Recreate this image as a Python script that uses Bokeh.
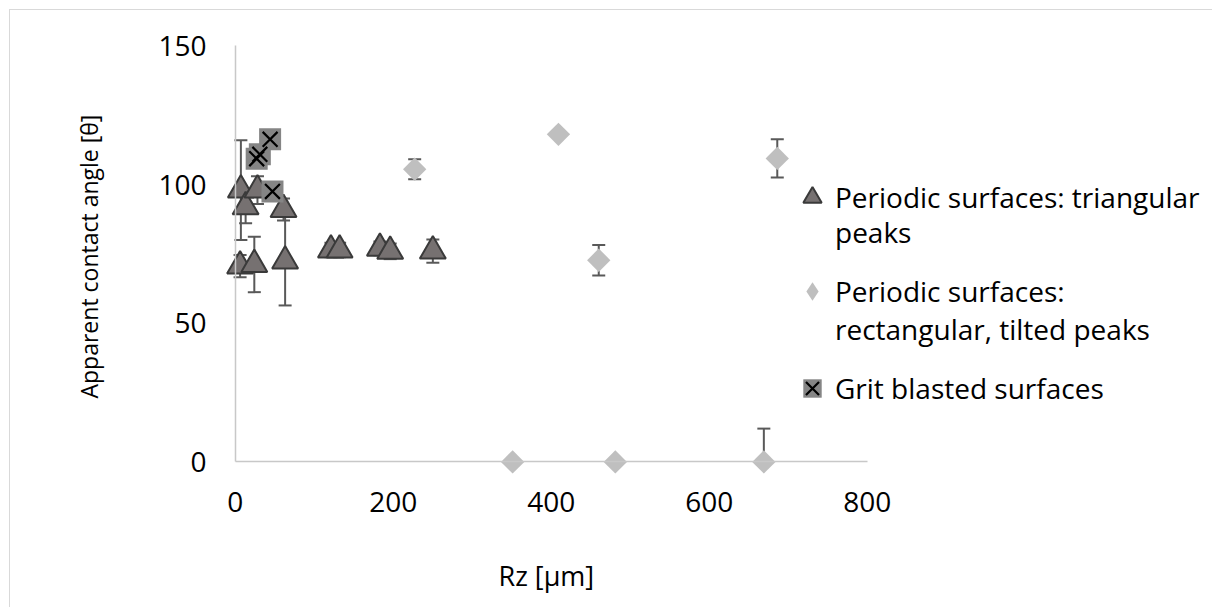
import numpy as np
from bokeh.plotting import figure
from bokeh.models import (ColumnDataSource, Whisker, TeeHead, Legend, LegendItem,
                          FixedTicker, Range1d, LinearAxis, Title)
from bokeh.embed import file_html
from bokeh.resources import INLINE

# ---------------- data ----------------
tri_x = [7, 13, 28, 61, 6, 24, 63, 121, 132, 183, 196, 250]
tri_y = [98, 92, 98, 91, 70.6, 71.2, 72.4, 76.4, 76.4, 77.0, 75.9, 76.0]
tri_err = [18, 6, 5, 4, 4, 10, 16, 2.6, 2.6, 2.5, 2.8, 4.2]

rect_x = [227, 409, 686, 460, 351, 481, 669]
rect_y = [105.5, 118.1, 109.4, 72.7, 0, 0, 0]
rect_err = [3.6, 0, 6.9, 5.5, 0, 0, 12]

grit_x = [44, 27, 31, 47]
grit_y = [116.3, 109.3, 110.9, 97.5]

x_ticks = [0, 200, 400, 600, 800]
y_ticks = [0, 50, 100, 150]

label_tri = ["Periodic surfaces: triangular", "peaks"]
label_rect = ["Periodic surfaces:", "rectangular, tilted peaks"]
label_grit = ["Grit blasted surfaces"]
x_title = "Rz [µm]"
y_title = "Apparent contact angle [θ]"

FONT = "Open Sans"

# ---------------- figure ----------------
p = figure(width=1203, height=598, output_backend="svg", toolbar_location=None,
           x_range=Range1d(-15, 1238.2), y_range=Range1d(-30.14, 153),
           x_axis_location=None,
           min_border_left=213, min_border_right=0, min_border_top=27, min_border_bottom=63,
           styles={"border-top": "1px solid #d9d9d9", "border-left": "1px solid #d9d9d9",
                   "margin-left": "9px", "margin-top": "9px"})
p.outline_line_color = None
p.xgrid.grid_line_color = None
p.ygrid.grid_line_color = None
p.background_fill_color = "white"
p.border_fill_color = "white"


def style_axis(ax):
    ax.major_tick_line_color = None
    ax.minor_tick_line_color = None
    ax.major_tick_out = 0
    ax.major_tick_in = 0
    ax.major_label_text_font = FONT
    ax.major_label_text_font_size = "28px"
    ax.major_label_text_color = "black"


# y: label axis at the frame edge (no line) + line axis pinned at x = 0
ya = p.yaxis[0]
style_axis(ya)
ya.axis_line_color = None
ya.ticker = FixedTicker(ticks=y_ticks)
ya.bounds = (0, 150)
ya.major_label_standoff = 17

y_line = LinearAxis(ticker=FixedTicker(ticks=[]), bounds=(0, 150), fixed_location=0)
style_axis(y_line)
y_line.major_label_standoff = 0
y_line.axis_line_color = "#c8c8c8"
y_line.axis_line_width = 1.5
p.add_layout(y_line, "left")

# y-axis title, centred on the 0..150 span
yt = Title(text=y_title, align="left", offset=147, standoff=102,
           text_font=FONT, text_font_size="23px", text_font_style="normal",
           text_color="black")
p.add_layout(yt, "left")

# x: one axis pinned at y = 0 with line and tick labels
xa = LinearAxis(ticker=FixedTicker(ticks=x_ticks), bounds=(0, 800), fixed_location=0)
style_axis(xa)
xa.axis_line_color = "#c8c8c8"
xa.axis_line_width = 1.5
xa.major_label_standoff = 30
p.add_layout(xa, "below")

# x-axis title, placed under the 0..800 span
xt = Title(text=x_title, align="left", offset=275, standoff=18,
           text_font=FONT, text_font_size="27px", text_font_style="normal",
           text_color="black")
p.add_layout(xt, "below")

# ---------------- error bars ----------------
def whisker(xs, ys, errs):
    xs = np.asarray(xs, float); ys = np.asarray(ys, float); errs = np.asarray(errs, float)
    m = errs > 0
    src = ColumnDataSource(dict(x=xs[m], upper=ys[m] + errs[m],
                                lower=np.maximum(ys[m] - errs[m], 0)))
    w = Whisker(base="x", upper="upper", lower="lower", source=src, level="underlay",
                line_color="#595959", line_width=2,
                upper_head=TeeHead(size=13, line_color="#595959", line_width=2),
                lower_head=TeeHead(size=13, line_color="#595959", line_width=2))
    p.add_layout(w)

whisker(tri_x, tri_y, tri_err)
whisker(rect_x, rect_y, rect_err)

# ---------------- markers ----------------
tri_r = p.scatter(tri_x, tri_y, marker="triangle", size=26,
                  fill_color="#767171", line_color="#3a3a3a", line_width=2)
rect_leg = p.scatter(rect_x, rect_y, marker="diamond", size=22,
                     fill_color="#bfbfbf", line_color=None)
rect_r = p.scatter(rect_x, rect_y, marker="square", angle=np.pi / 4, size=16.5,
                   fill_color="#bfbfbf", line_color=None)
grit_sq = p.scatter(grit_x, grit_y, marker="square", size=22,
                    fill_color="#858585", line_color=None)
grit_x_r = p.scatter(grit_x, grit_y, marker="x", size=21,
                     line_color="black", line_width=2.2)
blank = p.scatter(x=[], y=[], marker="circle", size=1, fill_alpha=0, line_alpha=0)

# ---------------- legend: one single-row block per text line ----------------
# legend offsets are measured from the frame's bottom edge
def legend_line(text, renderers, y_off):
    lg = Legend(items=[LegendItem(label=text, renderers=renderers)], location=(566, y_off))
    lg.padding = 0
    lg.margin = 0
    lg.spacing = 0
    lg.glyph_width = 46
    lg.glyph_height = 50
    lg.label_standoff = -3
    lg.label_text_font = FONT
    lg.label_text_font_size = "28px"
    lg.label_text_color = "black"
    lg.border_line_color = None
    lg.background_fill_alpha = 0
    p.add_layout(lg)

legend_line(label_tri[0], [tri_r], 323)
legend_line(label_tri[1], [blank], 288)
legend_line(label_rect[0], [rect_leg], 229)
legend_line(label_rect[1], [blank], 191)
legend_line(label_grit[0], [grit_sq, grit_x_r], 132)

open("out.html", "w").write(file_html(p, INLINE))
